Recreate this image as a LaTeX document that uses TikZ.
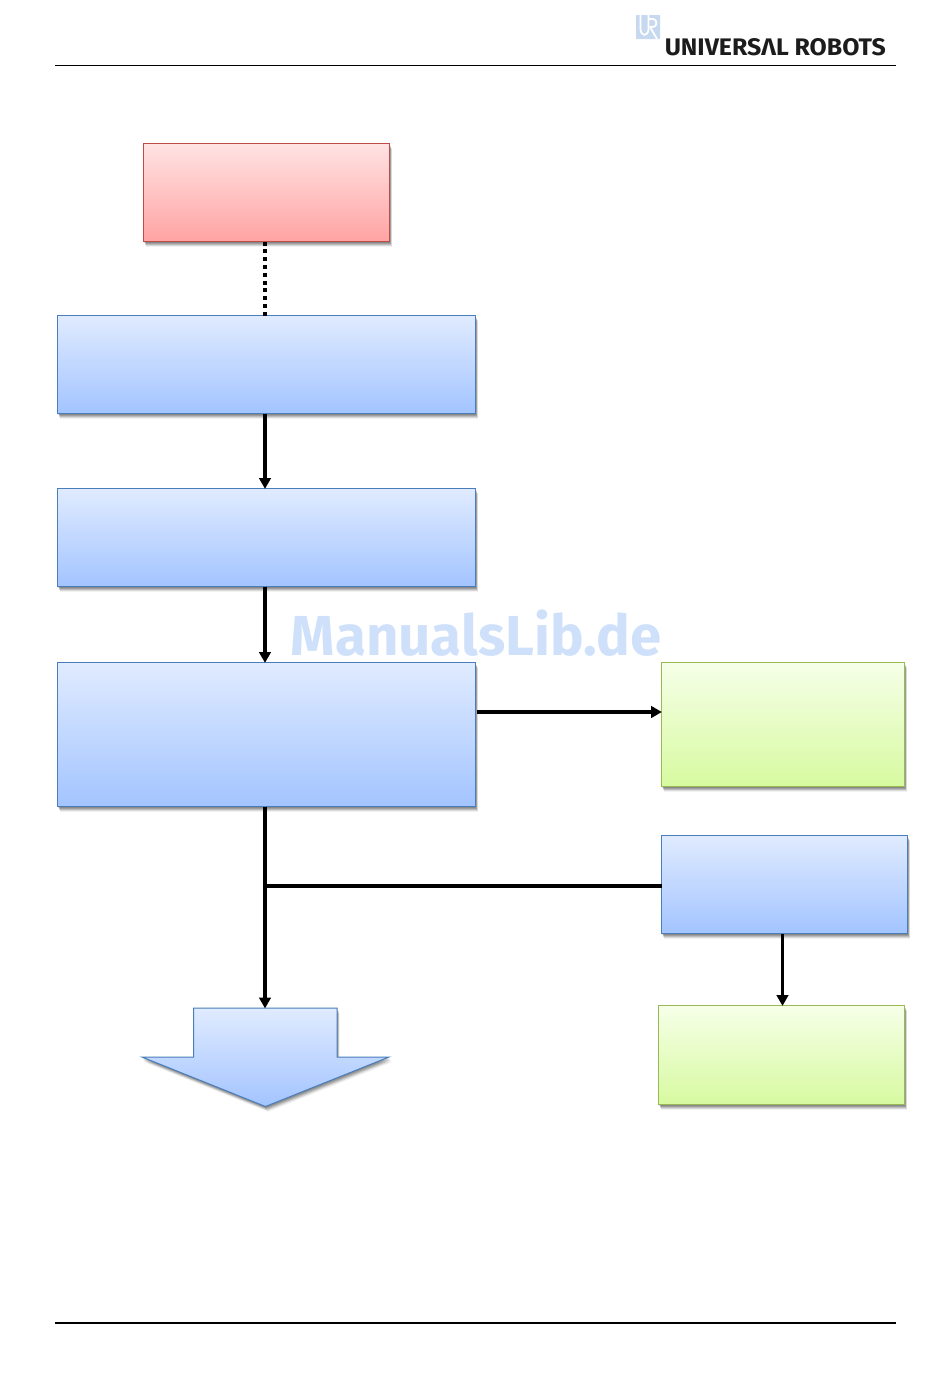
\documentclass[tikz,border=0pt]{standalone}
\usepackage{fontspec}
\usepackage{graphicx}
\setmainfont{Noto Sans}
\newfontfamily\logofont{Fira Sans}
\usetikzlibrary{arrows.meta,shadows,calc}
\definecolor{bluetop}{HTML}{E0EBFF}
\definecolor{bluebot}{HTML}{A3C4FF}
\definecolor{blueedge}{HTML}{4A7EBB}
\definecolor{redtop}{HTML}{FFE3E3}
\definecolor{redbot}{HTML}{FFA3A3}
\definecolor{rededge}{HTML}{BE4B48}
\definecolor{greentop}{HTML}{F6FFE8}
\definecolor{greenbot}{HTML}{D7FAA0}
\definecolor{greenedge}{HTML}{98B954}
\definecolor{wm}{HTML}{CFE1FA}
\definecolor{urlogo}{HTML}{C6D9EE}
\tikzset{
  softshadow/.style={
    general shadow={shadow xshift=0.4pt,shadow yshift=-0.8pt,fill=black,opacity=.15},
    general shadow={shadow xshift=0.8pt,shadow yshift=-1.6pt,fill=black,opacity=.15},
    general shadow={shadow xshift=1.2pt,shadow yshift=-2.4pt,fill=black,opacity=.14},
    general shadow={shadow xshift=1.6pt,shadow yshift=-3.2pt,fill=black,opacity=.10},
    general shadow={shadow xshift=2.0pt,shadow yshift=-4.0pt,fill=black,opacity=.05}},
  box/.style={rectangle,inner sep=0pt,outer sep=0pt,line width=0.75pt,softshadow,
    minimum width=#1*0.75pt},
  bluebox/.style={box=#1,draw=blueedge,top color=bluetop,bottom color=bluebot},
  redbox/.style={box=#1,draw=rededge,top color=redtop,bottom color=redbot},
  greenbox/.style={box=#1,draw=greenedge,top color=greentop,bottom color=greenbot},
  tall/.style={minimum height=#1*0.75pt},
  flow/.style={line width=2.5pt,draw=black,-{Triangle[length=8pt,width=8.5pt]},shorten >=-0.3pt},
  plainflow/.style={line width=3pt,draw=black},
  dotflow/.style={line width=3pt,draw=black,dash pattern=on 3pt off 2.85pt},
  rule/.style={line width=0.8pt,draw=black},
}
\begin{document}
\begin{tikzpicture}[x=0.75pt,y=-0.75pt]
\useasboundingbox (0,0) rectangle (950,1378);
% watermark
\node[anchor=base,inner sep=0pt,text=wm] (mark) at (476,655)
  {\resizebox{277.5pt}{!}{\logofont\bfseries ManualsLib.de}};
% header and footer
\coordinate (hl) at (55,65.5);
\coordinate (hr) at (896,65.5);
\coordinate (fl) at (55,1323);
\coordinate (fr) at (896,1323);
\draw[rule] (hl) -- (hr);
\draw[rule] (fl) -- (fr);
% logo
\fill[urlogo,rounded corners=0.5pt] (636,15) rectangle (660,39);
\draw[white,line width=1.3pt,line join=round]
  (640.5,15) -- (640.5,29) arc[start angle=180,end angle=360,x radius=4,y radius=-6] -- (648.5,15);
\draw[white,line width=1.3pt,line join=round]
  (648.5,19) -- (653,19) arc[start angle=90,end angle=-90,x radius=3.5,y radius=-4] -- (650,27) -- (657,39);
\node[anchor=south west,inner sep=0pt,text={rgb,255:red,28;green,28;blue,28}] (logo) at (664.5,56)
  {\resizebox{165.75pt}{12.75pt}{\logofont\bfseries UNIVERSΛL ROBOTS}};
% boxes
\node[redbox=246,tall=98] (red) at (266.5,192.5) {};
\node[bluebox=418,tall=98] (b1) at (266.5,364.5) {};
\node[bluebox=418,tall=98] (b2) at (266.5,537.5) {};
\node[bluebox=418,tall=144] (b3) at (266.5,734.5) {};
\node[greenbox=243,tall=124] (g1) at (783,724.5) {};
\node[bluebox=246,tall=98] (b4) at (784.5,884.5) {};
\node[greenbox=246,tall=99] (g2) at (781.5,1055) {};
% big down arrow
\path[softshadow,draw=blueedge,line width=0.75pt,line join=miter,top color=bluetop,bottom color=bluebot]
  (193.5,1008) -- (337,1008) -- (337,1057) -- (389,1057) -- (265.5,1106.5) -- (142,1057) -- (193.5,1057) -- cycle;
\coordinate (down) at (265,1008);
% connectors
\coordinate (xa) at (265,0);
\coordinate (xb) at (782.5,0);
\coordinate (y1) at (0,712);
\coordinate (y2) at (0,885.5);
\draw[dotflow] (red.south -| xa) -- (b1.north -| xa);
\draw[flow] (b1.south -| xa) -- (b2.north -| xa);
\draw[flow] (b2.south -| xa) -- (b3.north -| xa);
\draw[flow] (b3.south -| xa) -- (down);
\draw[flow] ($(b3.east |- y1)+(1.5,0)$) -- (g1.west |- y1);
\draw[plainflow] (b4.west |- y2) -- (xa |- y2);
\draw[flow] (b4.south -| xb) -- (g2.north -| xb);
\end{tikzpicture}
\end{document}
